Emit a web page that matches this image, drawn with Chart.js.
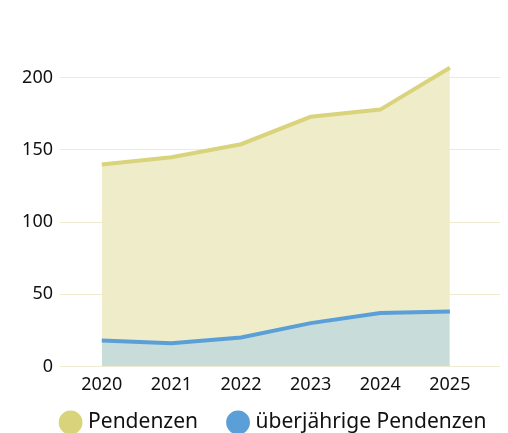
<!DOCTYPE html>
<html lang="de">
<head>
<meta charset="UTF-8">
<title>Pendenzen</title>
<script src="https://cdn.jsdelivr.net/npm/chart.js"></script>
<style>
  html, body { margin: 0; padding: 0; background: #fff; }
  #wrap { width: 508px; height: 433px; }
</style>
</head>
<body>
<div id="wrap"><canvas id="chart"></canvas></div>
<script>
const years = [2020, 2021, 2022, 2023, 2024, 2025];
const pendenzen = [140, 145, 154, 173, 178, 207];
const ueberjaehrige = [18, 16, 20, 30, 37, 38];
const yTicks = [0, 50, 100, 150, 200];

const toPoints = vals => vals.map((v, i) => ({ x: years[i], y: v }));

Chart.defaults.font.family = '"Noto Sans", sans-serif';
Chart.defaults.color = '#111';

// move the legend to where the original has it
const legendShift = {
  id: 'legendShift',
  afterLayout(chart) {
    const lg = chart.legend;
    if (!lg) return;
    lg.left += 25;
    lg.right += 25;
    lg.top -= 21;
    lg.bottom -= 21;
  }
};

new Chart(document.getElementById('chart'), {
  type: 'line',
  data: {
    datasets: [
      {
        label: 'Pendenzen',
        data: toPoints(pendenzen),
        borderColor: '#d9d47c',
        backgroundColor: '#d9d47c',
        borderWidth: 4,
        pointRadius: 0,
        fill: { target: '+1', above: '#efecca', below: '#efecca' },
        tension: 0,
        order: 2
      },
      {
        label: 'überjährige Pendenzen',
        data: toPoints(ueberjaehrige),
        borderColor: '#5a9fd8',
        backgroundColor: '#5a9fd8',
        borderWidth: 4,
        pointRadius: 0,
        fill: { target: 'origin', above: '#c8dcda' },
        tension: 0,
        order: 1
      }
    ]
  },
  options: {
    responsive: true,
    maintainAspectRatio: false,
    animation: false,
    layout: { padding: { top: 49, right: 8, left: 0, bottom: -31 } },
    scales: {
      x: {
        type: 'linear',
        min: 2019.4,
        max: 2025.72,
        afterBuildTicks: s => { s.ticks = years.map(v => ({ value: v })); },
        afterFit: s => { s.height += 4; },
        grid: { display: false },
        border: { display: false },
        ticks: {
          font: { size: 18 },
          color: '#111',
          padding: 0,
          callback: v => String(v)
        }
      },
      y: {
        min: 0,
        max: 220,
        afterBuildTicks: s => { s.ticks = yTicks.map(v => ({ value: v })); },
        afterFit: s => { s.width = 60; },
        grid: { color: '#f0ecd2', lineWidth: 1, drawTicks: false },
        border: { display: false },
        ticks: { font: { size: 18 }, color: '#111', padding: 7 }
      }
    },
    plugins: {
      tooltip: { enabled: false },
      legend: {
        position: 'bottom',
        labels: {
          usePointStyle: true,
          pointStyle: 'circle',
          boxWidth: 14,
          boxHeight: 14,
          padding: 33,
          font: { size: 21 },
          color: '#111',
          sort: (a, b) => a.datasetIndex - b.datasetIndex
        }
      }
    }
  },
  plugins: [legendShift]
});
</script>
</body>
</html>
